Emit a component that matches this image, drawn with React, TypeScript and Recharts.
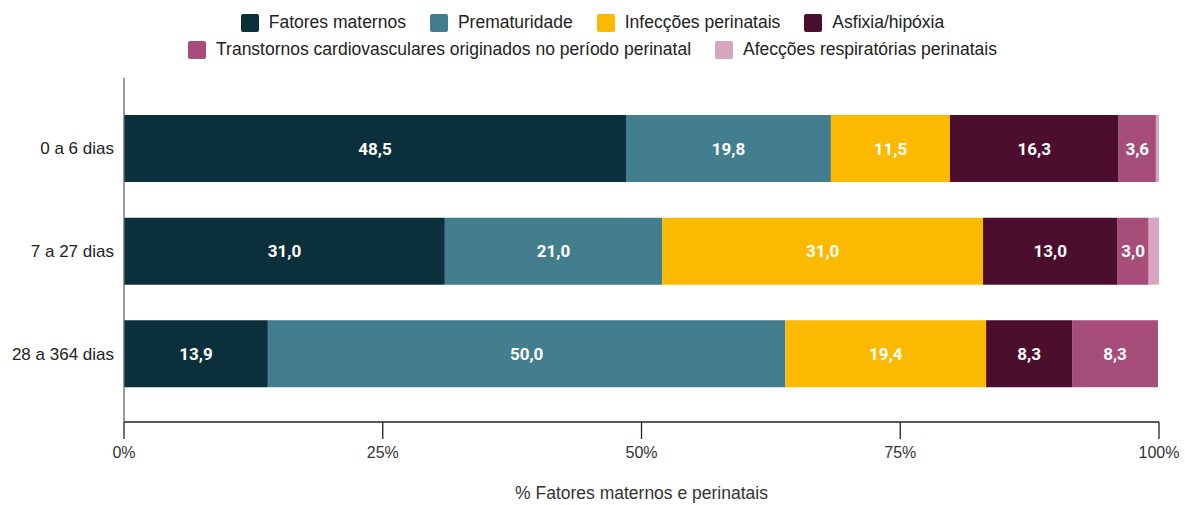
import { BarChart, Bar, XAxis, YAxis, LabelList } from 'recharts'

const faixas = ['0 a 6 dias', '7 a 27 dias', '28 a 364 dias']
const fatoresMaternos = [48.5, 31.0, 13.9]
const prematuridade = [19.8, 21.0, 50.0]
const infeccoes = [11.5, 31.0, 19.4]
const asfixia = [16.3, 13.0, 8.3]
const transtornos = [3.6, 3.0, 8.3]
const afeccoes = [0.3, 1.0, 0]
const xTicks = [0, 25, 50, 75, 100]

const series = [
  { key: 'fatores', name: 'Fatores maternos', color: '#0b303c', values: fatoresMaternos },
  { key: 'prema', name: 'Prematuridade', color: '#427e8d', values: prematuridade },
  { key: 'infec', name: 'Infecções perinatais', color: '#fbb900', values: infeccoes },
  { key: 'asfix', name: 'Asfixia/hipóxia', color: '#4b0f2d', values: asfixia },
  { key: 'transt', name: 'Transtornos cardiovasculares originados no período perinatal', color: '#a64d79', values: transtornos },
  { key: 'afec', name: 'Afecções respiratórias perinatais', color: '#d5a6bd', values: afeccoes },
]

const chartData = faixas.map((faixa, i) => {
  const row: Record<string, any> = { faixa }
  series.forEach((s) => {
    row[s.key] = s.values[i]
  })
  return row
})

const FONT = "'Liberation Sans', Arial, sans-serif"

const fmt = (v: any) => (typeof v === 'number' && v >= 2 ? v.toFixed(1).replace('.', ',') : '')

// ticks do eixo x cruzam a linha do eixo
const XTick = (props: any) => {
  const { x, y, payload } = props
  return (
    <g>
      <line x1={x} x2={x} y1={y - 8} y2={y + 9} stroke="#222" strokeWidth={1.3} />
      <text x={x} y={y + 28} textAnchor="middle" fill="#333" fontSize={16} fontFamily={FONT}>
        {payload.value}%
      </text>
    </g>
  )
}

const LegendBox = () => {
  const item = (s: (typeof series)[number]) => (
    <span key={s.key} style={{ display: 'inline-flex', alignItems: 'center', margin: '0 12px', verticalAlign: 'middle' }}>
      <span style={{ width: 18, height: 18, background: s.color, borderRadius: 2, marginRight: 10, display: 'inline-block' }} />
      {s.name}
    </span>
  )
  const row = { height: 27, display: 'flex', justifyContent: 'center', alignItems: 'center' }
  return (
    <div
      style={{
        position: 'absolute',
        top: 9,
        left: 0,
        width: 1185,
        fontFamily: FONT,
        fontSize: 17.5,
        color: '#222',
      }}
    >
      <div style={row}>{series.slice(0, 4).map(item)}</div>
      <div style={row}>{series.slice(4).map(item)}</div>
    </div>
  )
}

export default function App() {
  return (
    <div style={{ position: 'absolute', left: 0, top: 0, width: 1185, height: 505, background: '#fff', overflow: 'hidden' }}>
      <LegendBox />
      <div style={{ position: 'absolute', left: 0, top: 0 }}>
        <BarChart
          width={1185}
          height={505}
          data={chartData}
          layout="vertical"
          margin={{ top: 78, right: 26, left: 0, bottom: 33 }}
          barSize={67}
        >
          <XAxis
            type="number"
            domain={[0, 100]}
            ticks={xTicks}
            tick={<XTick />}
            tickLine={false}
            axisLine={{ stroke: '#222', strokeWidth: 1.3 }}
            height={50}
            label={{
              value: '% Fatores maternos e perinatais',
              position: 'insideBottom',
              offset: -27,
              fill: '#333',
              fontSize: 17.5,
              fontFamily: FONT,
            }}
          />
          <YAxis
            type="category"
            dataKey="faixa"
            width={124}
            padding={{ top: 19, bottom: 17 }}
            tickLine={false}
            axisLine={{ stroke: '#666', strokeWidth: 1.3 }}
            tick={{ fill: '#222', fontSize: 17, fontFamily: FONT }}
            tickMargin={4}
          />
          {series.map((s) => (
            <Bar key={s.key} dataKey={s.key} name={s.name} stackId="a" fill={s.color} isAnimationActive={false}>
              <LabelList
                dataKey={s.key}
                position="center"
                formatter={fmt}
                fill="#fff"
                fontSize={17}
                fontWeight="bold"
                fontFamily="Roboto, sans-serif"
              />
            </Bar>
          ))}
        </BarChart>
      </div>
    </div>
  )
}
